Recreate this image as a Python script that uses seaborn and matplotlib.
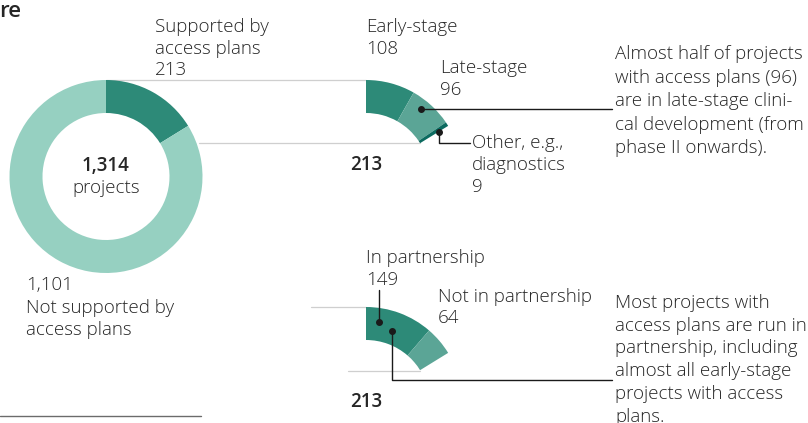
import matplotlib
matplotlib.use("Agg")
import matplotlib.pyplot as plt
import seaborn as sns

# ---- data ----
main_labels = ["Supported by access plans", "Not supported by access plans"]
main_values = [213, 1101]
total_projects = 1314

stage_labels = ["Early-stage", "Late-stage", "Other, e.g., diagnostics"]
stage_values = [108, 96, 9]

partner_labels = ["In partnership", "Not in partnership"]
partner_values = [149, 64]

# ---- style ----
sns.set_theme(style="white")
plt.rcParams["font.family"] = ["Open Sans", "DejaVu Sans"]
TXT = "#262626"
FS = 13.5
LW_TXT = "light"
pal_main = sns.color_palette(["#2d8a78", "#96d0c1"])
pal_stage = sns.color_palette(["#2d8a78", "#5ba596", "#0c6b60"])
pal_partner = sns.color_palette(["#2d8a78", "#5ba596"])

W, H = 808, 423
fig = plt.figure(figsize=(W / 100, H / 100), dpi=100)
ax = fig.add_axes([0, 0, 1, 1])


def Y(py):
    return H - py


R_OUT, WIDTH = 96.5, 33
main_c = (106, Y(176.5))
arc1_c = (366, Y(176.5))
arc2_c = (366, Y(403.5))

ax.pie(main_values, colors=pal_main, startangle=90, counterclock=False,
       radius=R_OUT, center=main_c, wedgeprops=dict(width=WIDTH, linewidth=0))

rest = total_projects - sum(stage_values)
ax.pie(stage_values + [rest], colors=list(pal_stage) + ["none"], startangle=90,
       counterclock=False, radius=R_OUT, center=arc1_c,
       wedgeprops=dict(width=WIDTH, linewidth=0))

rest2 = total_projects - sum(partner_values)
ax.pie(partner_values + [rest2], colors=list(pal_partner) + ["none"], startangle=90,
       counterclock=False, radius=R_OUT, center=arc2_c,
       wedgeprops=dict(width=WIDTH, linewidth=0))

ax.set_xlim(0, W)
ax.set_ylim(0, H)
ax.set_aspect("equal")
ax.axis("off")

# grey connector lines
GL = dict(color="#cfcfcf", lw=0.9, zorder=0)
ax.plot([106, 366], [Y(80), Y(80)], **GL)
ax.plot([199, 420], [Y(143), Y(143)], **GL)
ax.plot([311, 366], [Y(307), Y(307)], **GL)
ax.plot([348, 420], [Y(371), Y(371)], **GL)

# bottom rule
ax.plot([0, 201], [Y(415.7), Y(415.7)], color="#6b6b6b", lw=1.0)


def lines(x, y0, rows, dy=22.0, size=FS, weight=LW_TXT, ha="left"):
    for i, r in enumerate(rows):
        ax.text(x, Y(y0 + i * dy), r, fontsize=size, fontweight=weight,
                color=TXT, ha=ha, va="baseline")


# title fragment
ax.text(-1, Y(16.7), "re", fontsize=16, fontweight="semibold", color=TXT,
        ha="left", va="baseline")

lines(155, 32, ["Supported by", "access plans", f"{main_values[0]}"], dy=21.5)
lines(106, 170.7, [f"{total_projects:,}"], weight="semibold", ha="center")
lines(106, 193, ["projects"], ha="center")
lines(26, 290, [f"{main_values[1]:,}", "Not supported by", "access plans"], dy=22.5)

lines(366, 32, [stage_labels[0], f"{stage_values[0]}"], dy=21.5)
lines(440, 73, [stage_labels[1], f"{stage_values[1]}"], dy=21.5)
lines(472, 148, ["Other, e.g.,", "diagnostics", f"{stage_values[2]}"], dy=22)
lines(366, 170, [f"{sum(stage_values)}"], weight="semibold", ha="center")

lines(366, 263, [partner_labels[0], f"{partner_values[0]}"], dy=22)
lines(438, 301.7, [partner_labels[1], f"{partner_values[1]}"], dy=21.5)
lines(366, 406.7, [f"{sum(partner_values)}"], weight="semibold", ha="center")

lines(615, 59, ["Almost half of projects", "with access plans (96)",
                "are in late-stage clini-", "cal development (from",
                "phase II onwards)."], dy=23.5)
lines(615, 308, ["Most projects with", "access plans are run in",
                 "partnership, including", "almost all early-stage",
                 "projects with access", "plans."], dy=22.7)

# annotation leaders
LK = dict(color="#1a1a1a", lw=1.0)
DOT = dict(marker="o", ms=4, color="#1a1a1a", ls="none")
ax.plot([420.7, 612], [Y(109), Y(109)], **LK)
ax.plot([420.7], [Y(109)], **DOT)
ax.plot([439.3, 439.3, 470], [Y(132.3), Y(143), Y(143)], **LK)
ax.plot([439.3], [Y(132.3)], **DOT)
ax.plot([379, 379], [Y(290), Y(321.7)], **LK)
ax.plot([379], [Y(321.7)], **DOT)
ax.plot([391.7, 391.7, 612], [Y(331), Y(380), Y(380)], **LK)
ax.plot([391.7], [Y(331)], **DOT)

fig.savefig("out.png", dpi=100)
